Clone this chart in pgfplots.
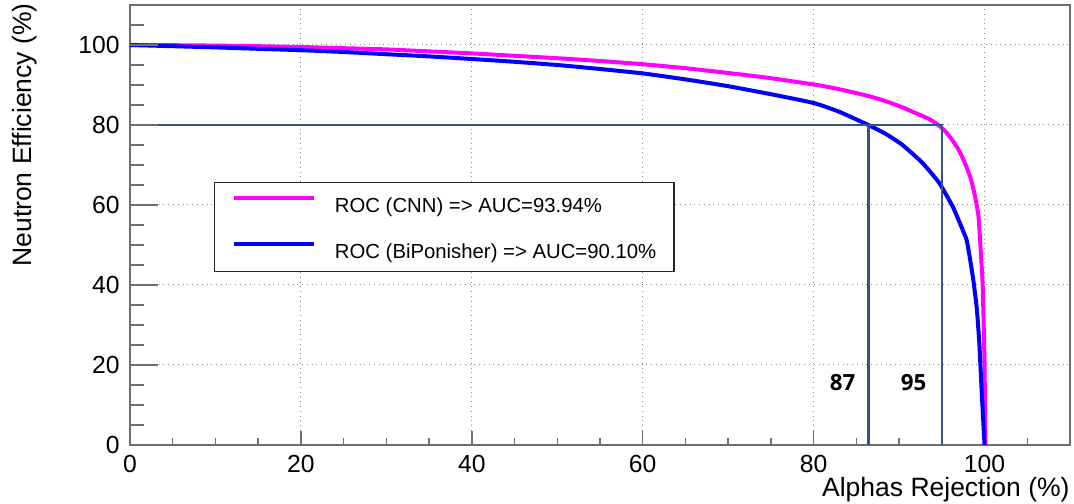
\documentclass[border=0pt]{standalone}
\usepackage{fontspec}
\setmainfont{Liberation Sans}
\newfontfamily\labelfont{Open Sans}
\usepackage{pgfplots}
\pgfplotsset{compat=1.18}
\definecolor{steel}{HTML}{34557F}
\definecolor{framegray}{HTML}{6E6E6E}
\definecolor{rocmag}{HTML}{FF00FF}
\definecolor{rocblue}{HTML}{0000FF}

\begin{document}
\begin{tikzpicture}
\begin{axis}[
  scale only axis, width=470bp, height=220bp,
  xmin=0, xmax=110, ymin=0, ymax=110,
  xtick={0,20,...,100}, ytick={0,20,...,100},
  minor xtick={5,10,...,105},
  tick align=inside, xtick pos=bottom, ytick pos=left,
  major tick length=7bp, minor tick length=3.5bp,
  ytick style={draw=none},
  tick style={framegray, line width=0.7bp},
  axis line style={framegray, line width=0.8bp},
  grid=major,
  major grid style={dotted, black!45, line width=0.5bp},
  /pgf/number format/assume math mode=true,
  tick label style={font=\fontsize{12.4}{14}\selectfont},
  yticklabel style={inner sep=0pt, xshift=-5bp},
  xticklabel style={inner sep=0pt, yshift=-5bp},
  xlabel={Alphas Rejection (\%)},
  ylabel={Neutron Efficiency (\%)},
  every axis x label/.style={at={(rel axis cs:1,0)}, anchor=base east, yshift=-25.5bp, inner sep=0pt, font=\fontsize{13.3}{16}\selectfont},
  every axis y label/.style={at={([xshift=-49bp,yshift=1bp]rel axis cs:0,1)}, rotate=90, anchor=base east, inner sep=0pt, font=\fontsize{13.3}{16}\selectfont},
  legend style={at={(axis cs:9.8,65.75)}, anchor=north west, draw=black!85, line width=0.6bp,
    fill=white, inner xsep=8.8bp, inner ysep=6.65bp, row sep=14.7bp,
    font=\fontsize{10.2}{12}\selectfont,
    nodes={inner sep=0pt, text height=7.3bp, text depth=0pt},
    /tikz/every odd column/.style={column sep=9.5bp}},
  legend cell align=left,
  legend image code/.code={\draw[#1, line width=2bp] (0bp,3.65bp) -- (40bp,3.65bp);},
]
\addplot[rocmag, line width=2bp, smooth, tension=0.3] coordinates {
(0,100)(5,99.95)(10,99.85)(15,99.7)(20,99.5)(25,99.2)(30,98.9)(35,98.4)(40,97.9)
(45,97.3)(50,96.7)(55,96.0)(60,95.2)(65,94.2)(70,93.0)(75,91.7)(80.7,89.9)(83.5,88.7)
(86.5,87.2)(88.5,85.9)(90.4,84.4)(92,82.9)(93.6,81.4)(94.7,79.8)(95.5,78.2)(96.3,76)
(97.1,73.3)(97.8,70)(98.4,66.5)(98.9,62)(99.3,57)(99.6,47)(99.78,40)(99.9,30)(100,20)(100.05,10)(100.1,0)};
\addlegendentry{ROC (CNN) => AUC=93.94\%}
\addplot[rocblue, line width=2bp, smooth, tension=0.3] coordinates {
(0,100)(5,99.7)(10,99.4)(15,99.05)(20,98.7)(25,98.25)(30,97.7)(35,97.15)(40,96.5)
(45,95.8)(50,95.0)(55,94.0)(60,92.9)(65,91.4)(70,89.7)(75,87.7)(80,85.5)(83,83.3)
(86.4,80)(88.5,77.7)(90.4,75)(92.7,70.6)(94.7,65.5)(96.3,59.5)(97.3,54.5)(97.9,51.3)
(98.3,46.5)(98.7,41)(99.1,34)(99.4,25)(99.65,14)(99.85,6)(100,0)};
\addlegendentry{ROC (BiPonisher) => AUC=90.10\%}
\addplot[steel, line width=1.2bp, forget plot] coordinates {(0,80)(95,80)(95,0)};
\addplot[steel, line width=1.2bp, forget plot] coordinates {(86.4,80)(86.4,0)};
\node[font=\labelfont\bfseries\fontsize{11.2}{13}\selectfont] at (axis cs:83.4,15.5) {87};
\node[font=\labelfont\bfseries\fontsize{11.2}{13}\selectfont] at (axis cs:91.7,15.5) {95};
\end{axis}
\begin{axis}[
  scale only axis, width=470bp, height=220bp,
  xmin=0, xmax=110, ymin=0, ymax=110,
  xtick=\empty, ytick={0,20,...,100}, yticklabels={},
  minor ytick={5,10,...,105},
  tick align=inside, ytick pos=left,
  major tick length=14bp, minor tick length=7bp,
  tick style={framegray, line width=0.7bp},
  axis line style={draw=none},
]
\addplot[draw=none] coordinates {(0,0)};
\end{axis}
\pgfresetboundingbox
\path (-65bp,-29.5bp) rectangle (472bp,222.5bp);
\end{tikzpicture}
\end{document}
